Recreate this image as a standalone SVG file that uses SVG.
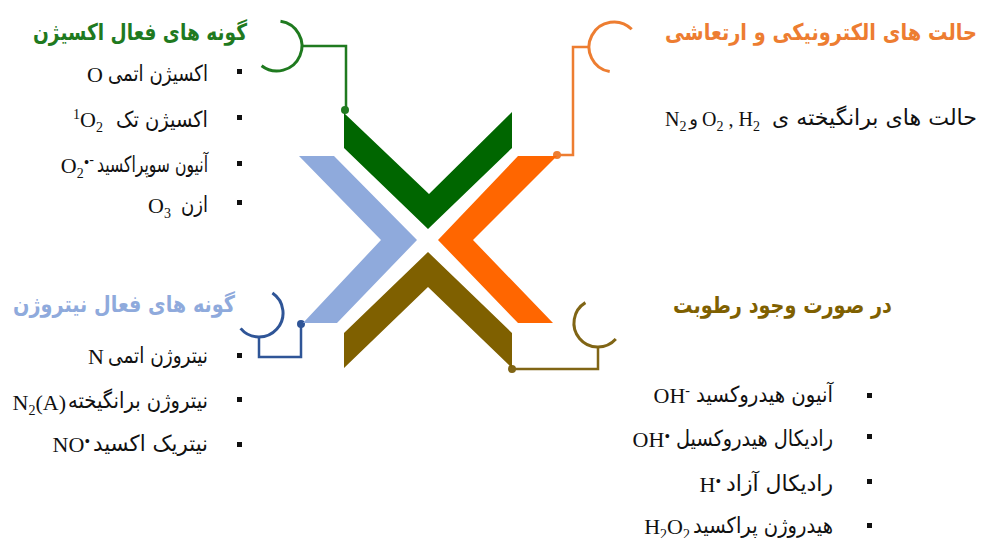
<svg xmlns="http://www.w3.org/2000/svg" width="983" height="538" viewBox="0 0 983 538">
<style>
.fa{font-family:"DejaVu Sans","Noto Sans",sans-serif;font-size:22px;fill:#111}
.tt{font-family:"DejaVu Sans","Noto Sans",sans-serif;font-size:23px;font-weight:bold}
.fm{font-family:"Liberation Serif","Times New Roman",serif;font-size:22px;fill:#111}
.sm{font-size:14px}
.bl{fill:#111}
.cn{fill:none;stroke-width:2.5;stroke-linejoin:miter}
.arc{fill:none;stroke-width:3}
</style>
<rect width="983" height="538" fill="#ffffff"/>

<g id="connectors">
  <path class="cn" stroke="#1f7a1f" d="M302,46 H346 V110"/>
  <path class="arc" stroke="#1f7a1f" d="M280.5,21.2 A25,25 0 1 1 261.6,65.7"/>
  <circle cx="345" cy="110" r="4" fill="#1f7a1f"/>

  <path class="cn" stroke="#ed7d31" d="M589,47 H573 V155 H557"/>
  <path class="arc" stroke="#ed7d31" d="M631.7,29.3 A25,25 0 1 0 609.7,71.6"/>
  <circle cx="557" cy="155" r="4" fill="#ed7d31"/>

  <path class="cn" stroke="#2f5597" d="M259,337 V357 H301 V324"/>
  <path class="arc" stroke="#2f5597" d="M272.4,293.1 A24,24 0 1 1 240.6,328.4"/>
  <circle cx="301" cy="324" r="4" fill="#2f5597"/>

  <path class="cn" stroke="#806515" d="M598,347 V369 H512"/>
  <path class="arc" stroke="#806515" d="M585.4,302.6 A24,24 0 1 0 615.8,339.1"/>
  <circle cx="512" cy="369" r="4" fill="#806515"/>
</g>

<g id="oxygen">
  <polygon points="344,113 429,194 512,112 512,148 428,229 344,148" fill="#006600"/>
  <text class="tt" fill="#1f7a1f" x="247" y="40" text-anchor="end" textLength="214" lengthAdjust="spacingAndGlyphs">گونه های فعال اکسیژن</text>
  <rect class="bl" x="237" y="69" width="5" height="5"/>
  <rect class="bl" x="237" y="115" width="5" height="5"/>
  <rect class="bl" x="237" y="161" width="5" height="5"/>
  <rect class="bl" x="237" y="200" width="5" height="5"/>
  <text class="fa" x="208" y="81" text-anchor="end" textLength="100" lengthAdjust="spacingAndGlyphs">اکسیژن اتمی</text>
  <text class="fm" x="103" y="82" text-anchor="end">O</text>
  <text class="fa" x="208" y="127" text-anchor="end" textLength="92" lengthAdjust="spacingAndGlyphs">اکسیژن تک</text>
  <text class="fm" x="103" y="127" text-anchor="end"><tspan class="sm" baseline-shift="8">1</tspan>O<tspan class="sm" baseline-shift="-5">2</tspan></text>
  <text class="fa" x="208" y="172" text-anchor="end" textLength="111" lengthAdjust="spacingAndGlyphs">آنیون سوپراکسید</text>
  <text class="fm" x="94" y="173" text-anchor="end">O<tspan class="sm" baseline-shift="-5">2</tspan><tspan style="font-size:16px" baseline-shift="5">•</tspan><tspan class="sm" baseline-shift="9">-</tspan></text>
  <text class="fa" x="208" y="212" text-anchor="end" textLength="27" lengthAdjust="spacingAndGlyphs">ازن</text>
  <text class="fm" x="171" y="213" text-anchor="end">O<tspan class="sm" baseline-shift="-5">3</tspan></text>
</g>

<g id="electronic">
  <polygon points="518,156 557,156 473,240 553,323 518,323 438,240" fill="#ff6600"/>
  <text class="tt" fill="#ed7d31" x="977" y="40" text-anchor="end" textLength="312" lengthAdjust="spacingAndGlyphs">حالت های الکترونیکی و ارتعاشی</text>
  <text class="fa" x="977" y="125" text-anchor="end" textLength="205" lengthAdjust="spacingAndGlyphs">حالت های برانگیخته ی</text>
  <text class="fm" x="665" y="126" style="font-size:20px">N<tspan class="sm" baseline-shift="-5">2</tspan></text>
  <text class="fa" x="698" y="125" text-anchor="end" style="font-size:18px">و</text>
  <text class="fm" x="702" y="126" style="font-size:20px">O<tspan class="sm" baseline-shift="-5">2</tspan> , H<tspan class="sm" baseline-shift="-5">2</tspan></text>
</g>

<g id="nitrogen">
  <polygon points="299,156 334,156 417,240 337,323 303,323 381,240" fill="#8faadc"/>
  <text class="tt" fill="#8faadc" x="235" y="312" text-anchor="end" textLength="222" lengthAdjust="spacingAndGlyphs">گونه های فعال نیتروژن</text>
  <rect class="bl" x="237" y="353" width="5" height="5"/>
  <rect class="bl" x="237" y="397" width="5" height="5"/>
  <rect class="bl" x="237" y="442" width="5" height="5"/>
  <text class="fa" x="208" y="363" text-anchor="end" textLength="100" lengthAdjust="spacingAndGlyphs">نیتروژن اتمی</text>
  <text class="fm" x="104" y="364" text-anchor="end">N</text>
  <text class="fa" x="208" y="408" text-anchor="end" textLength="140" lengthAdjust="spacingAndGlyphs">نیتروژن برانگیخته</text>
  <text class="fm" x="66" y="410" text-anchor="end">N<tspan class="sm" baseline-shift="-5">2</tspan>(A)</text>
  <text class="fa" x="208" y="451" text-anchor="end" textLength="115" lengthAdjust="spacingAndGlyphs">نیتریک اکسید</text>
  <text class="fm" x="90" y="452" text-anchor="end">NO<tspan style="font-size:16px" baseline-shift="5">•</tspan></text>
</g>

<g id="humidity">
  <polygon points="428,252 512,333 512,368 428,287 344,368 344,333" fill="#7f6000"/>
  <text class="tt" fill="#7f6000" x="892" y="313" text-anchor="end" textLength="219" lengthAdjust="spacingAndGlyphs">در صورت وجود رطوبت</text>
  <rect class="bl" x="867" y="393" width="5" height="5"/>
  <rect class="bl" x="867" y="434" width="5" height="5"/>
  <rect class="bl" x="867" y="479" width="5" height="5"/>
  <rect class="bl" x="867" y="523" width="5" height="5"/>
  <text class="fa" x="833" y="402" text-anchor="end" textLength="137" lengthAdjust="spacingAndGlyphs">آنیون هیدروکسید</text>
  <text class="fm" x="690" y="403" text-anchor="end">OH<tspan class="sm" baseline-shift="8">-</tspan></text>
  <text class="fa" x="833" y="446" text-anchor="end" textLength="157" lengthAdjust="spacingAndGlyphs">رادیکال هیدروکسیل</text>
  <text class="fm" x="670" y="447" text-anchor="end">OH<tspan style="font-size:16px" baseline-shift="5">•</tspan></text>
  <text class="fa" x="833" y="491" text-anchor="end" textLength="107" lengthAdjust="spacingAndGlyphs">رادیکال آزاد</text>
  <text class="fm" x="721" y="492" text-anchor="end">H<tspan style="font-size:16px" baseline-shift="5">•</tspan></text>
  <text class="fa" x="833" y="533" text-anchor="end" textLength="140" lengthAdjust="spacingAndGlyphs">هیدروژن پراکسید</text>
  <text class="fm" x="690" y="534" text-anchor="end">H<tspan class="sm" baseline-shift="-5">2</tspan>O<tspan class="sm" baseline-shift="-5">2</tspan></text>
</g>
</svg>
